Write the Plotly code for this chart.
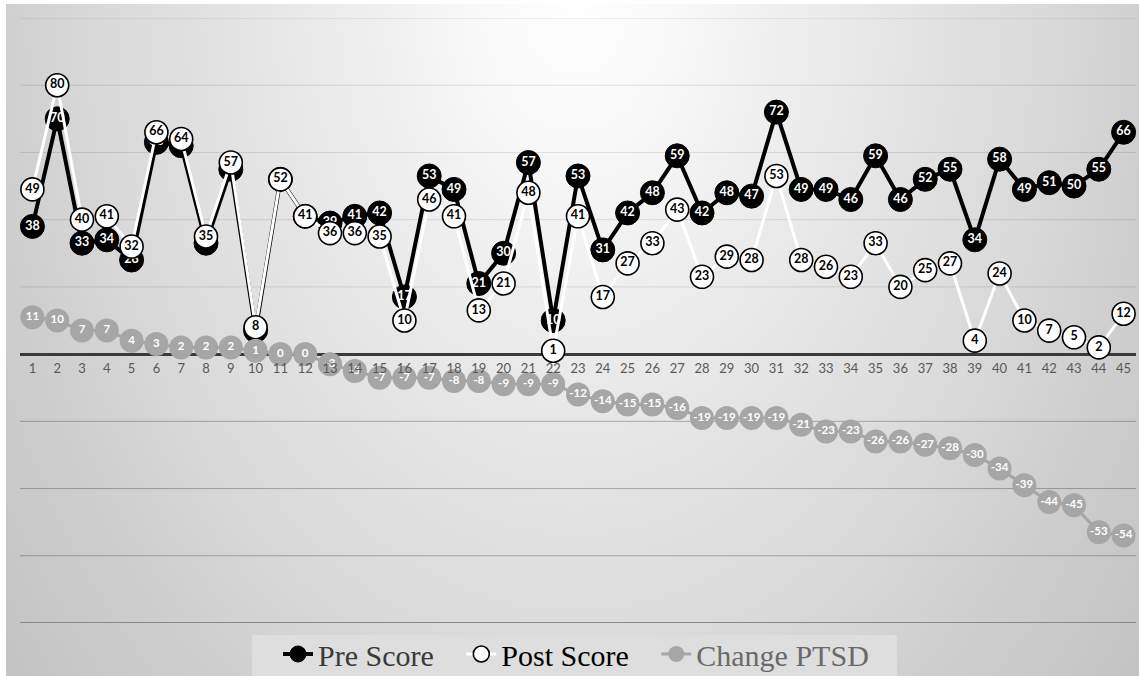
import base64
import plotly.graph_objects as go

# Participant index and PTSD scores before / after, plus their change
participants = list(range(1, 46))
pre_score = [38, 70, 33, 34, 28, 63, 62, 33, 55, 7, 52, 41, 39, 41, 42, 17, 53, 49, 21, 30,
             57, 10, 53, 31, 42, 48, 59, 42, 48, 47, 72, 49, 49, 46, 59, 46, 52, 55, 34, 58,
             49, 51, 50, 55, 66]
post_score = [49, 80, 40, 41, 32, 66, 64, 35, 57, 8, 52, 41, 36, 36, 35, 10, 46, 41, 13, 21,
              48, 1, 41, 17, 27, 33, 43, 23, 29, 28, 53, 28, 26, 23, 33, 20, 25, 27, 4, 24,
              10, 7, 5, 2, 12]
change_ptsd = [11, 10, 7, 7, 4, 3, 2, 2, 2, 1, 0, 0, -3, -5, -7, -7, -7, -8, -8, -9,
               -9, -9, -12, -14, -15, -15, -16, -19, -19, -19, -19, -21, -23, -23, -26, -26, -27, -28, -30, -34,
               -39, -44, -45, -53, -54]

# Horizontal guide levels: lighter above zero, darker below
upper_grid = [20, 40, 60, 80, 100]
lower_grid = [-20, -40, -60]
floor_line = -80

W, H = 1139, 676
ML, MR, MT, MB = 20, 3, 18, 53
PW, PH = W - ML - MR, H - MT - MB

# spacing appended after a legend entry's text
LEGEND_PAD = "&nbsp;" * 3


def px_x(px):
    return (px - ML) / PW


def px_y(py):
    return 1 - (py - MT) / PH


# Soft radial backdrop (light at top centre, darker towards the corners)
bg_w, bg_h = W - 6, H - 4
svg = f'''<svg xmlns="http://www.w3.org/2000/svg" width="{bg_w}" height="{bg_h}" viewBox="0 0 {bg_w} {bg_h}" preserveAspectRatio="none">
<defs><radialGradient id="g" gradientUnits="userSpaceOnUse" cx="569" cy="-10" r="720"
 gradientTransform="translate(569,-10) scale(1,1.45) translate(-569,10)">
<stop offset="0" stop-color="#ffffff"/>
<stop offset="0.16" stop-color="#f7f7f7"/>
<stop offset="0.36" stop-color="#eaeaea"/>
<stop offset="0.64" stop-color="#dadada"/>
<stop offset="0.82" stop-color="#cecece"/>
<stop offset="1" stop-color="#c4c4c4"/>
</radialGradient></defs>
<rect x="0" y="0" width="{bg_w}" height="{bg_h}" fill="url(#g)"/>
</svg>'''
bg_src = "data:image/svg+xml;base64," + base64.b64encode(svg.encode()).decode()

label_font = dict(family="Lato, 'Open Sans', sans-serif", size=12.5, weight="bold")

fig = go.Figure()

fig.add_trace(go.Scatter(
    x=participants, y=pre_score, mode="lines+markers+text",
    name="<span style='color:#3a3a3a'>Pre Score</span>" + LEGEND_PAD,
    line=dict(color="black", width=4),
    marker=dict(size=24, color="black", line=dict(color="black", width=1)),
    text=[str(v) for v in pre_score], textposition="middle center",
    textfont=dict(color="white", **label_font),
))

fig.add_trace(go.Scatter(
    x=participants, y=post_score, mode="lines+markers+text",
    name="<span style='color:#000000'>Post Score</span>" + LEGEND_PAD,
    line=dict(color="white", width=3),
    marker=dict(size=23, color="white", line=dict(color="black", width=1.6)),
    text=[str(v) for v in post_score], textposition="middle center",
    textfont=dict(color="black", **label_font),
))

fig.add_trace(go.Scatter(
    x=participants, y=change_ptsd, mode="lines+markers+text",
    name="<span style='color:#6a6a6a'>Change PTSD</span>",
    line=dict(color="#a6a6a6", width=3),
    marker=dict(size=24, color="#a6a6a6", line=dict(color="#a6a6a6", width=0)),
    text=[str(v) for v in change_ptsd], textposition="middle center",
    textfont=dict(color="white", family="Lato, 'Open Sans', sans-serif", size=11.5, weight="bold"),
))

shapes = []
for lvl in upper_grid:
    shapes.append(dict(type="line", xref="paper", yref="y", x0=0, x1=1, y0=lvl, y1=lvl,
                       line=dict(color="rgba(0,0,0,0.11)", width=1), layer="below"))
for lvl in lower_grid:
    shapes.append(dict(type="line", xref="paper", yref="y", x0=0, x1=1, y0=lvl, y1=lvl,
                       line=dict(color="rgba(0,0,0,0.27)", width=1), layer="below"))
shapes.append(dict(type="line", xref="paper", yref="y", x0=0, x1=1, y0=floor_line, y1=floor_line,
                   line=dict(color="#8a8a8a", width=2), layer="below"))
# Panel behind the legend
shapes.append(dict(type="rect", xref="paper", yref="paper",
                   x0=px_x(252), x1=px_x(897), y0=px_y(676), y1=px_y(635),
                   fillcolor="#dedede", line=dict(width=0), layer="below"))

fig.update_layout(
    width=W, height=H,
    margin=dict(l=ML, r=MR, t=MT, b=MB, pad=0, autoexpand=False),
    paper_bgcolor="white",
    plot_bgcolor="rgba(0,0,0,0)",
    showlegend=True,
    legend=dict(
        orientation="h", x=px_x(278), xanchor="left", y=px_y(654), yanchor="middle",
        bgcolor="rgba(0,0,0,0)", borderwidth=0,
        font=dict(family="'Liberation Serif', 'Times New Roman', serif", size=30),
        itemwidth=30, tracegroupgap=0,
    ),
    images=[dict(
        source=bg_src, xref="paper", yref="paper",
        x=px_x(6), y=px_y(4),
        sizex=(W - 6) / PW, sizey=(H - 4) / PH,
        xanchor="left", yanchor="top", sizing="stretch", layer="below",
    )],
    shapes=shapes,
)

fig.update_xaxes(
    range=[0.5, 45.5], tickmode="array", tickvals=participants,
    ticktext=[str(p) for p in participants],
    anchor="free", position=80 / 180, showline=False, showgrid=False, zeroline=False,
    ticks="", ticklabelstandoff=5,
    tickfont=dict(family="Lato, 'Open Sans', sans-serif", size=13, color="#595959"),
    layer="above traces",
)
fig.update_yaxes(
    range=[-80, 100], dtick=20, showticklabels=False, ticks="",
    showgrid=False,
    zeroline=True, zerolinecolor="#3a3a3a", zerolinewidth=2.5,
)

fig.write_html("out.html")
